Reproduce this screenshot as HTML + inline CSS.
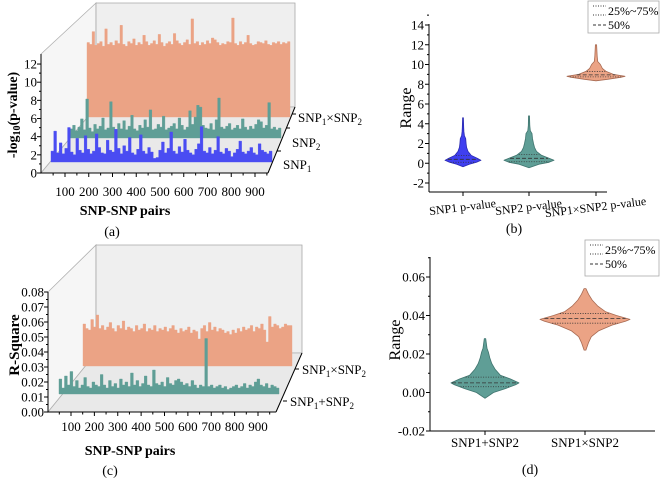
<!DOCTYPE html>
<html><head><meta charset="utf-8">
<style>
html,body{margin:0;padding:0;background:#fff;}
svg, svg text, svg tspan{font-family:"Liberation Serif","Times New Roman",serif;}
</style></head>
<body>
<svg id="fig" width="660" height="478" viewBox="0 0 660 478" xmlns="http://www.w3.org/2000/svg" font-family="Liberation Serif, serif">
<g id="pa"></g>
<g id="pb"></g>
<g id="pc"></g>
<g id="pd"></g>
</svg>
<script>
// ---------- data ----------
const pairTicks = [100,200,300,400,500,600,700,800,900];
const aYTicks = [0,2,4,6,8,10,12];
const aSeriesNames = ["SNP1","SNP2","SNP1×SNP2"];
const aSnp1 = [1.2,3.4,1.0,2.1,0.9,1.5,3.8,1.1,0.8,2.6,1.3,1.0,2.9,1.4,0.9,1.2,3.1,1.6,1.0,0.9,2.4,1.3,1.1,3.6,1.5,0.9,1.8,1.2,2.7,1.0,0.8,1.4,3.0,1.2,0.9,1.6,1.1,0.4,0.5,1.3,2.2,1.0,1.5,3.3,1.2,0.9,1.7,1.1,2.5,1.3,1.0,0.8,1.4,2.0,3.9,1.2,1.0,1.6,0.9,1.3,2.8,1.1,0.9,1.5,1.2,0.6,1.0,1.4,2.3,1.1,0.9,1.2,1.6,1.0,0.8,2.0,1.3,1.1,0.9,1.2];
const aSnp2 = [1.0,1.4,0.8,1.2,2.1,0.9,4.3,1.1,0.7,1.5,1.0,1.3,2.2,0.9,1.1,4.0,1.2,0.8,1.6,1.0,1.9,0.9,1.3,2.5,1.0,0.8,1.4,1.1,2.0,1.2,3.1,0.9,1.0,1.5,1.2,2.4,0.9,1.1,1.3,1.6,1.0,2.2,1.4,0.9,1.2,3.0,1.5,2.3,3.6,3.4,1.4,1.1,1.0,1.6,0.9,2.0,4.4,1.2,1.0,1.3,1.6,0.9,1.1,1.4,1.0,2.1,1.2,0.9,1.3,1.0,1.5,2.0,1.8,1.1,1.4,3.9,1.0,1.2,0.9,1.1];
const aSnp12 = [8.2,8.0,9.4,7.9,8.1,8.3,7.8,9.7,8.0,8.2,7.9,8.4,8.1,10.1,8.0,7.8,8.3,8.1,8.6,7.9,8.2,8.0,9.0,8.3,7.9,8.1,8.4,8.0,9.1,8.2,7.8,8.1,8.3,8.0,9.2,8.4,8.1,7.9,8.2,8.5,8.0,10.8,8.1,8.3,7.9,8.2,8.0,8.4,8.1,8.7,8.5,8.2,7.9,8.1,8.0,8.3,8.2,10.9,8.1,7.9,8.3,8.0,8.2,9.0,8.1,7.9,8.0,8.3,8.2,8.1,8.4,8.0,7.9,8.2,8.1,8.3,8.0,8.2,8.1,8.3];
const cYTicks = [0.00,0.01,0.02,0.03,0.04,0.05,0.06,0.07,0.08];
const cSeriesNames = ["SNP1+SNP2","SNP1×SNP2"];
const cAdd = [0.010,0.004,0.012,0.006,0.015,0.005,0.009,0.004,0.006,0.011,0.005,0.004,0.008,0.006,0.005,0.013,0.006,0.004,0.009,0.005,0.007,0.004,0.010,0.006,0.008,0.005,0.014,0.006,0.009,0.005,0.007,0.012,0.006,0.005,0.016,0.007,0.006,0.008,0.005,0.011,0.007,0.006,0.009,0.010,0.008,0.006,0.007,0.005,0.009,0.006,0.004,0.006,0.005,0.037,0.005,0.006,0.004,0.005,0.006,0.004,0.005,0.003,0.004,0.005,0.006,0.004,0.005,0.007,0.004,0.006,0.005,0.008,0.010,0.006,0.005,0.007,0.004,0.006,0.005,0.004];
const cMul = [0.028,0.025,0.024,0.031,0.026,0.034,0.025,0.027,0.024,0.026,0.029,0.025,0.023,0.027,0.025,0.030,0.024,0.026,0.025,0.023,0.027,0.024,0.025,0.028,0.023,0.025,0.024,0.027,0.023,0.025,0.024,0.026,0.023,0.025,0.027,0.024,0.022,0.025,0.023,0.024,0.026,0.022,0.024,0.023,0.018,0.025,0.027,0.023,0.029,0.024,0.026,0.023,0.025,0.024,0.022,0.023,0.021,0.024,0.022,0.025,0.023,0.026,0.024,0.025,0.027,0.023,0.026,0.025,0.028,0.024,0.016,0.033,0.026,0.028,0.027,0.025,0.026,0.028,0.027,0.027];
// violin b
const bCats = ["SNP1 p-value","SNP2 p-value","SNP1×SNP2 p-value"];
const bYTicks = [-2,0,2,4,6,8,10,12,14];
const bLevels1 = [-0.35,-0.1,0.1,0.3,0.5,0.8,1.2,1.6,2.0,2.5,2.8,3.2,3.6,4.6];
const bDens1 =   [0,0.35,0.75,1.0,0.8,0.45,0.28,0.2,0.17,0.15,0.08,0.05,0.04,0.02];
const bQ1 = [0.1,0.4,0.8];
const bLevels2 = [-0.45,-0.1,0.1,0.3,0.5,0.8,1.2,1.6,2.0,2.5,3.0,3.3,3.8,4.8];
const bDens2 =   [0,0.4,0.8,1.0,0.8,0.5,0.3,0.22,0.18,0.14,0.12,0.05,0.03,0.02];
const bQ2 = [0.15,0.5,0.9];
const bLevels3 = [8.35,8.5,8.7,8.8,9.0,9.3,9.6,10.0,10.3,10.8,12.0];
const bDens3 =   [0,0.4,0.85,1.0,0.6,0.35,0.22,0.15,0.06,0.04,0.02];
const bQ3 = [8.75,8.95,9.3];
// violin d
const dCats = ["SNP1+SNP2","SNP1×SNP2"];
const dYTicks = [-0.02,0.00,0.02,0.04,0.06];
const dLevels1 = [-0.003,0.0,0.002,0.004,0.005,0.007,0.009,0.012,0.015,0.018,0.021,0.023,0.028];
const dDens1 =   [0,0.25,0.6,0.9,1.0,0.75,0.45,0.3,0.2,0.14,0.1,0.06,0.02];
const dQ1 = [0.003,0.005,0.008];
const dLevels2 = [0.022,0.026,0.029,0.032,0.035,0.037,0.038,0.040,0.042,0.045,0.048,0.051,0.054];
const dDens2 =   [0.02,0.08,0.14,0.3,0.6,0.9,1.0,0.7,0.45,0.28,0.16,0.08,0.02];
const dQ2 = [0.036,0.0385,0.041];

const NS="http://www.w3.org/2000/svg";
function mk(parent, tag, attrs, txt){
  const e=document.createElementNS(NS,tag);
  for(const k in attrs) e.setAttribute(k,attrs[k]);
  if(tag==='text') e.setAttribute('font-family','Liberation Serif, serif');
  if(txt!==undefined) e.textContent=txt;
  parent.appendChild(e); return e;
}
const pa=document.getElementById('pa'), pb=document.getElementById('pb'), pc=document.getElementById('pc'), pd=document.getElementById('pd');

// ---------- 3D panel builder ----------
function panel3d(g, cfg){
  let e;
  e=mk(g,'polygon',{points:`${cfg.ax},${cfg.axTop} ${cfg.bx0},${cfg.bTop} ${cfg.bx0},${cfg.bBot} ${cfg.ax},${cfg.y0}`,fill:'#f6f6f6',stroke:'#b0b0b0','stroke-width':0.8});
  
  
  e=mk(g,'polygon',{points:`${cfg.bx0},${cfg.bTop} ${cfg.bx1},${cfg.bTop} ${cfg.bx1},${cfg.bBot} ${cfg.bx0},${cfg.bBot}`,fill:'#efefef',stroke:'#a8a8a8','stroke-width':0.8});
  
  
  e=mk(g,'polygon',{points:`${cfg.ax},${cfg.y0} ${cfg.fx1},${cfg.y0} ${cfg.bx1},${cfg.bBot} ${cfg.bx0},${cfg.bBot}`,fill:'#e9e9e9',stroke:'#b0b0b0','stroke-width':0.8});
  
  
  for(let s=cfg.series.length-1;s>=0;s--){
    const vals=cfg.series[s], sc=cfg.sx[s];
    const n=vals.length, w=(sc.x1-sc.x0)/n;
    let d=`M${sc.x0},${sc.base}`;
    vals.forEach((v,i)=>{const y=sc.base-v*cfg.unit; d+=` L${(sc.x0+i*w).toFixed(1)},${y.toFixed(1)} L${(sc.x0+(i+1)*w).toFixed(1)},${y.toFixed(1)}`;});
    d+=` L${sc.x1},${sc.base} Z`;
    e=mk(g,'path',{d:d,fill:cfg.colors[s],stroke:cfg.colors[s],'stroke-width':0.4});
    
    
  }
  e=mk(g,'line',{x1:cfg.ax,y1:cfg.axTop,x2:cfg.ax,y2:cfg.y0,stroke:'#000','stroke-width':1});
  
  
  cfg.yTicks.forEach((t,i)=>{
    const y=cfg.y0-(t-cfg.yTicks[0])*cfg.yUnit;
    const l=mk(g,'line',{x1:cfg.ax-4,y1:y,x2:cfg.ax,y2:y,stroke:'#000'});
    
    
    const tx=mk(g,'text',{x:cfg.ax-4,y:y+4.5,'font-size':cfg.tickFs,'text-anchor':'end'},cfg.yFmt(t));
    
    
    if(i<cfg.yTicks.length-1){const ym=y-cfg.yUnit*(cfg.yTicks[1]-cfg.yTicks[0])/2;
      const m=mk(g,'line',{x1:cfg.ax-2,y1:ym,x2:cfg.ax,y2:ym,stroke:'#000'});
      
      }
  });
  e=mk(g,'line',{x1:cfg.ax,y1:cfg.y0,x2:cfg.fx1,y2:cfg.y0,stroke:'#000'});
  
  
  const xs=v=>cfg.xA+(v-100)*(cfg.xB-cfg.xA)/800;
  for(let v=50;v<=950;v+=50){const x=xs(v);
    const l=mk(g,'line',{x1:x,y1:cfg.y0,x2:x,y2:cfg.y0+(v%100?2.5:4),stroke:'#000'});
    
    }
  pairTicks.forEach(v=>{const t=mk(g,'text',{x:xs(v),y:cfg.xLabY,'font-size':cfg.tickFs,'text-anchor':'middle'},String(v));
    
    });
  e=mk(g,'line',{x1:cfg.fx1,y1:cfg.y0,x2:cfg.bx1,y2:cfg.bBot,stroke:'#000'});
  
  
  cfg.depthLab.forEach((p,i)=>{
    const l=mk(g,'line',{x1:p.tx,y1:p.ty,x2:p.tx+4,y2:p.ty,stroke:'#000'});
    
    
    const t=mk(g,'text',{x:p.x,y:p.y,'font-size':13});
    
    
    p.parts.forEach(q=>{mk(t,'tspan',q[1]?{'font-size':9,dy:3}:{dy:q[2]||0},q[0]);});
  });
}

panel3d(pa,{ax:41,axTop:54,y0:173,bx0:96,bx1:295,bTop:3,bBot:107,fx1:268,
  unit:9.08,yUnit:9.08,yTicks:aYTicks,yFmt:t=>String(t),tickFs:13,
  xA:65,xB:255,xLabY:196,
  series:[aSnp1,aSnp2,aSnp12],names:aSeriesNames,
  colors:['#4a4cf2','#5f9e96','#eba385'],
  sx:[{x0:51,x1:272,base:162},{x0:70,x1:281,base:138},{x0:87,x1:290,base:117}],
  depthLab:[
    {tx:277,ty:151,x:283,y:169,parts:[["SNP"],["1",true]]},
    {tx:286,ty:128,x:292,y:147,parts:[["SNP"],["2",true]]},
    {tx:292,ty:114,x:298,y:122,parts:[["SNP"],["1",true],["×SNP",false,-3],["2",true]]}]
});
panel3d(pc,{ax:48,axTop:292,y0:412,bx0:96,bx1:302,bTop:245,bBot:353,fx1:276,
  unit:1500,yUnit:1500,yTicks:cYTicks,yFmt:t=>t.toFixed(2),tickFs:13,
  xA:71,xB:258,xLabY:431,
  series:[cAdd,cMul],names:cSeriesNames,
  colors:['#5f9e96','#eba385'],
  sx:[{x0:59,x1:279,base:394},{x0:83,x1:292,base:366}],
  depthLab:[
    {tx:283,ty:401,x:290,y:406,parts:[["SNP"],["1",true],["+SNP",false,-3],["2",true]]},
    {tx:295,ty:369,x:302,y:374,parts:[["SNP"],["1",true],["×SNP",false,-3],["2",true]]}]
});
(function(){
  let t=mk(pa,'text',{x:125,y:215,'font-size':14,'font-weight':'bold','text-anchor':'middle'},'SNP-SNP pairs');
  
  
  t=mk(pa,'text',{x:112,y:236,'font-size':14,'text-anchor':'middle'},'(a)');
  
  
  t=mk(pa,'text',{transform:'translate(17,115) rotate(-90)','font-size':14,'font-weight':'bold','text-anchor':'middle'});
  
  
  mk(t,'tspan',{},'-log');mk(t,'tspan',{'font-size':10,dy:3},'10');mk(t,'tspan',{dy:-3},'(p-value)');
  t=mk(pc,'text',{x:130,y:455,'font-size':14,'font-weight':'bold','text-anchor':'middle'},'SNP-SNP pairs');
  
  
  t=mk(pc,'text',{x:110,y:475,'font-size':14,'text-anchor':'middle'},'(c)');
  
  
  t=mk(pc,'text',{transform:'translate(19,345) rotate(-90)','font-size':15,'font-weight':'bold','text-anchor':'middle'},'R-Square');
  
  
})();

// ---------- violin builder ----------
function violinPanel(g,cfg){
  const ys=v=>cfg.y0-(v-cfg.yMin)*cfg.unit;
  cfg.violins.forEach((vi,k)=>{
    const cx=cfg.cx[k];
    let L=vi.levels, D=vi.dens;
    let right=L.map((v,i)=>`${(cx+D[i]*vi.half).toFixed(1)},${ys(v).toFixed(1)}`);
    let left=L.map((v,i)=>`${(cx-D[i]*vi.half).toFixed(1)},${ys(v).toFixed(1)}`).reverse();
    const p=mk(g,'polygon',{points:right.concat(left).join(' '),fill:vi.color,stroke:vi.stroke,'stroke-width':0.8,'stroke-linejoin':'round'});
    
    
    vi.q.forEach((q,j)=>{
      let w=0;for(let i=0;i<L.length-1;i++){if(q>=L[i]&&q<=L[i+1]){w=D[i]+(D[i+1]-D[i])*(q-L[i])/(L[i+1]-L[i]);}}
      const l=mk(g,'line',{x1:cx-w*vi.half+1,x2:cx+w*vi.half-1,y1:ys(q),y2:ys(q),stroke:'#333','stroke-width':0.8,'stroke-dasharray':j==1?'4,2':'1,1.5'});
      
      
    });
  });
  let e=mk(g,'line',{x1:cfg.ax,y1:cfg.axTop,x2:cfg.ax,y2:cfg.xAxisY,stroke:'#000'});
  
  
  e=mk(g,'line',{x1:cfg.ax,y1:cfg.xAxisY,x2:cfg.axRight,y2:cfg.xAxisY,stroke:'#000'});
  
  
  cfg.yTicks.forEach((t,i)=>{const y=ys(t);
    const l=mk(g,'line',{x1:cfg.ax-4,y1:y,x2:cfg.ax,y2:y,stroke:'#000'});
    
    
    const half=(ys(cfg.yTicks[0])-ys(cfg.yTicks[1]))/2;
    const m=mk(g,'line',{x1:cfg.ax-2,y1:y-half,x2:cfg.ax,y2:y-half,stroke:'#000'});
    
    
    const tx=mk(g,'text',{x:cfg.ax-5,y:y+4.5,'font-size':13,'text-anchor':'end'},cfg.yFmt(t));
    
    });
  cfg.cats.forEach((c,k)=>{const x=cfg.cx[k];
    const l=mk(g,'line',{x1:x,y1:cfg.xAxisY,x2:x,y2:cfg.xAxisY+4,stroke:'#000'});
    
    
    const t=mk(g,'text',{x:x,y:cfg.labY,'font-size':cfg.labFs,'text-anchor':'middle',transform:cfg.rot?`rotate(${cfg.rot},${x},${cfg.labY})`:''},c);
    
    });
  e=mk(g,'text',{transform:`translate(${cfg.titleX},${cfg.titleY}) rotate(-90)`,'font-size':16,'text-anchor':'middle'},'Range');
  
  
  e=mk(g,'text',{x:cfg.plX,y:cfg.plY,'font-size':14,'text-anchor':'middle'},cfg.pl);
  
  
  const lg=mk(g,'g',{});
  
  
  const L=cfg.leg;
  mk(lg,'rect',{x:L.x,y:L.y,width:L.w,height:L.h,fill:'#fff',stroke:'#aaa','stroke-width':0.8});
  mk(lg,'line',{x1:L.x+5,x2:L.x+18,y1:L.y+5,y2:L.y+5,stroke:'#333','stroke-dasharray':'1,1.5'});
  mk(lg,'line',{x1:L.x+5,x2:L.x+18,y1:L.y+14,y2:L.y+14,stroke:'#333','stroke-dasharray':'1,1.5'});
  let t=mk(lg,'text',{x:L.x+20,y:L.y+14,'font-size':12},'25%~75%');
  
  
  mk(lg,'line',{x1:L.x+5,x2:L.x+18,y1:L.y+24,y2:L.y+24,stroke:'#333','stroke-dasharray':'3,2'});
  t=mk(lg,'text',{x:L.x+20,y:L.y+28,'font-size':12},'50%');
  
  
}
violinPanel(pb,{ax:429,axTop:24,xAxisY:192,axRight:607,y0:183,yMin:-2,unit:9.875,
  yTicks:bYTicks,yFmt:t=>String(t),cats:bCats,cx:[463,529,596],labY:211,rot:-7,labFs:12,
  titleX:411,titleY:108,plX:514,plY:233,pl:'(b)',
  leg:{x:588,y:1,w:71,h:32},
  violins:[
    {levels:bLevels1,dens:bDens1,q:bQ1,half:18,color:'#3f3ff0',stroke:'#2a2ab0'},
    {levels:bLevels2,dens:bDens2,q:bQ2,half:25,color:'#5f9e96',stroke:'#3f746e'},
    {levels:bLevels3,dens:bDens3,q:bQ3,half:29,color:'#eba385',stroke:'#a86a52'}]
});
violinPanel(pd,{ax:430,axTop:257,xAxisY:431,axRight:655,y0:431,yMin:-0.02,unit:1925,
  yTicks:dYTicks,yFmt:t=>t.toFixed(2),cats:dCats,cx:[485,585],labY:447,rot:0,labFs:13,
  titleX:400,titleY:340,plX:530,plY:474,pl:'(d)',
  leg:{x:585,y:240,w:74,h:36},
  violins:[
    {levels:dLevels1,dens:dDens1,q:dQ1,half:34,color:'#5f9e96',stroke:'#3f746e'},
    {levels:dLevels2,dens:dDens2,q:dQ2,half:45,color:'#eba385',stroke:'#a86a52'}]
});
</script>
</body></html>
